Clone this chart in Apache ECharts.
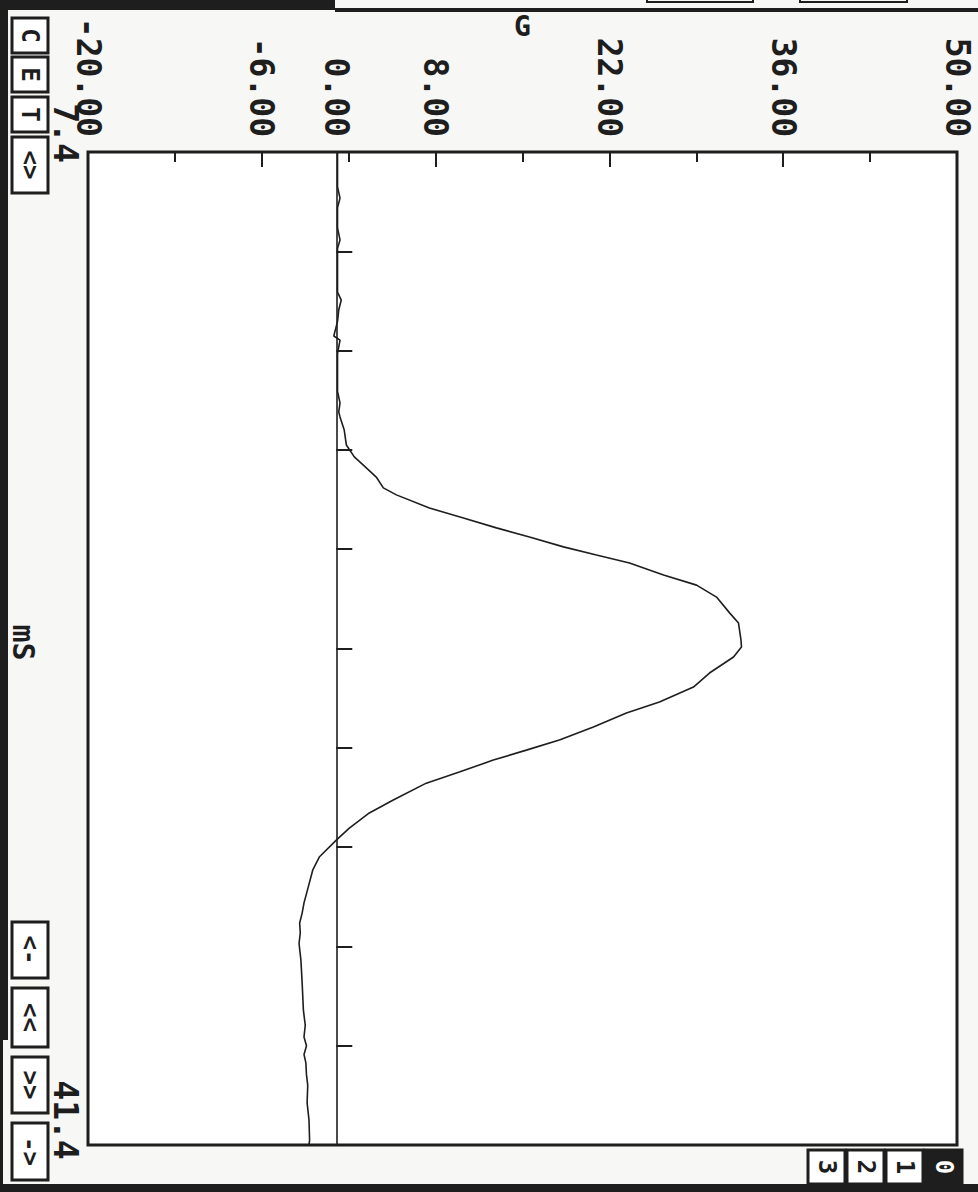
<!DOCTYPE html>
<html>
<head>
<meta charset="utf-8">
<style>
  html, body { margin: 0; padding: 0; background: #f7f7f5; }
  #chart { width: 978px; height: 1192px; }
</style>
<script src="https://cdn.jsdelivr.net/npm/echarts@6/dist/echarts.min.js"></script>
</head>
<body>
<div id="chart"></div>
<script>
// ---- data (time in mS, signal in G) ----
const msValues = [
  7.40, 8.00, 8.60, 8.98, 9.30, 10.00, 10.41, 10.70, 11.50, 12.20, 12.47, 12.80,
  13.20, 13.70, 13.84, 14.30, 15.00, 15.60, 15.99, 16.30, 16.47, 16.92, 17.43,
  17.84, 18.12, 18.53, 18.90, 19.14, 19.59, 19.93, 20.27, 20.58, 20.92, 21.20,
  21.47, 21.88, 22.23, 22.64, 23.18, 23.53, 24.11, 24.35, 24.69, 25.24, 25.72,
  26.23, 26.61, 27.09, 27.53, 27.88, 28.22, 28.63, 29.01, 29.59, 30.03, 30.55,
  30.96, 31.54, 31.99, 32.57, 33.11, 33.46, 33.80, 34.14, 34.50, 35.07, 35.85,
  36.78, 37.30, 37.70, 38.00, 38.30, 38.59, 39.00, 39.35, 39.96, 40.54, 41.23, 41.40
];
const gValues = [
  0.1, 0.1, 0.1, 0.3, 0.1, 0.1, 0.3, 0.1, 0.1, 0.1, 0.4, 0.2,
  0.1, -0.2, 0.3, 0.1, 0.1, 0.1, 0.3, 0.2, 0.3, 0.64, 0.81,
  1.45, 2.18, 3.22, 3.79, 4.84, 7.50, 10.24, 12.90, 15.56, 18.30, 20.96,
  23.62, 26.36, 29.02, 30.63, 31.68, 32.40, 32.60, 32.64, 32.00, 30.06, 28.77,
  26.03, 23.37, 20.71, 17.97, 15.31, 12.65, 9.91, 7.25, 4.59, 2.66, 1.05,
  0.00, -1.37, -1.90, -2.26, -2.60, -2.75, -2.95, -2.90, -3.00, -2.85, -2.75,
  -2.65, -2.50, -2.60, -2.40, -2.60, -2.45, -2.40, -2.30, -2.35, -2.20, -2.15, -2.20
];
// tick labels
const gLabelValues = [-20, -6, 0, 8, 22, 36, 50];
const gMajorTicks = [-6, 8, 22, 36];
const gMinorTicks = [-13, 1, 15, 29, 43];
const msLabelValues = [7.4, 41.4];
const msTicks = [10.8, 14.2, 17.6, 21.0, 24.4, 27.8, 31.2, 34.6, 38.0];
const leftTopButtons = ['C', 'E', 'T', '<>'];
const leftBottomButtons = ['<-', '<<', '>>', '->'];
const channelButtons = ['3', '2', '1', '0'];

const seriesData = msValues.map((m, i) => [gValues[i], m]);

const INK = '#1e1e1e';
const FONT = 'DejaVu Sans Mono';

const chart = echarts.init(document.getElementById('chart'), null, { renderer: 'svg' });

function button(x, y, w, h, txt, dark) {
  return {
    type: 'group', silent: true,
    children: [
      { type: 'rect', shape: { x: x, y: y, width: w, height: h },
        style: { fill: dark ? INK : '#fff', stroke: INK, lineWidth: 3 } },
      { type: 'text', x: x + w / 2, y: y + h / 2, rotation: -Math.PI / 2,
        style: { text: txt, fill: dark ? '#fff' : INK, font: 'bold 24px "' + FONT + '"',
                 align: 'center', verticalAlign: 'middle' } }
    ]
  };
}

const graphics = [
  { type: 'rect', silent: true, shape: { x: 0, y: 0, width: 335, height: 10 }, style: { fill: INK } },
  { type: 'rect', silent: true, shape: { x: 335, y: 8, width: 643, height: 4 }, style: { fill: INK } },
  { type: 'rect', silent: true, shape: { x: 647, y: -4, width: 106, height: 6 }, style: { fill: 'none', stroke: INK, lineWidth: 2 } },
  { type: 'rect', silent: true, shape: { x: 800, y: -4, width: 107, height: 6 }, style: { fill: 'none', stroke: INK, lineWidth: 2 } },
  { type: 'rect', silent: true, shape: { x: 0, y: 0, width: 8, height: 1040 }, style: { fill: INK } },
  { type: 'rect', silent: true, shape: { x: 0, y: 1040, width: 3, height: 152 }, style: { fill: INK } },
  { type: 'rect', silent: true, shape: { x: 0, y: 1184, width: 978, height: 8 }, style: { fill: INK } }
];
const topYs = [[18, 35], [57, 35], [97, 35], [137, 56]];
leftTopButtons.forEach((t, i) => graphics.push(button(12, topYs[i][0], 36, topYs[i][1], t)));
const botYs = [[922, 56], [988, 59], [1057, 56], [1123, 57]];
leftBottomButtons.forEach((t, i) => graphics.push(button(12, botYs[i][0], 36, botYs[i][1], t)));
const chXs = [808, 847, 886, 925];
channelButtons.forEach((t, i) => graphics.push(button(chXs[i], 1150, 37, 34, t, t === '0')));

const option = {
  backgroundColor: '#f7f7f5',
  animation: false,
  grid: {
    left: 88, top: 152, right: 21, bottom: 47,
    containLabel: false, outerBoundsMode: 'none',
    show: true, backgroundColor: '#ffffff', borderColor: INK, borderWidth: 3
  },
  xAxis: [
    {
      type: 'value', position: 'top', min: -20, max: 50,
      name: 'G', nameLocation: 'middle', nameGap: 112, nameRotate: 0, nameMoveOverlap: false,
      nameTextStyle: { fontFamily: FONT, fontWeight: 'bold', fontSize: 28, color: INK },
      axisLine: { show: false },
      splitLine: { show: false },
      axisTick: { show: true, inside: true, length: 15, customValues: gMajorTicks,
                  lineStyle: { color: INK, width: 2 } },
      axisLabel: {
        show: true, customValues: gLabelValues, rotate: 90, margin: 15,
        formatter: v => v.toFixed(2),
        fontFamily: FONT, fontWeight: 'bold', fontSize: 33, color: INK
      }
    },
    {
      type: 'value', position: 'top', min: -20, max: 50,
      axisLine: { show: false },
      splitLine: { show: false },
      axisLabel: { show: false },
      axisTick: { show: true, inside: true, length: 10, customValues: gMinorTicks,
                  lineStyle: { color: INK, width: 2 } }
    }
  ],
  yAxis: {
    type: 'value', inverse: true, min: 7.4, max: 41.4,
    name: 'mS', nameLocation: 'middle', nameGap: 50, nameRotate: -90, nameMoveOverlap: false,
    nameTextStyle: { fontFamily: FONT, fontWeight: 'bold', fontSize: 30, color: INK, padding: [0, 12, 0, 0] },
    axisLine: { show: false },
    splitLine: { show: false },
    axisTick: { show: true, inside: true, length: 16, customValues: msTicks,
                lineStyle: { color: INK, width: 2 } },
    axisLabel: {
      show: true, customValues: msLabelValues, rotate: -90, margin: 6, align: 'center',
      formatter: v => (v < 20 ? '{a|' : '{b|') + v.toFixed(1) + '}',
      rich: {
        a: { fontFamily: FONT, fontWeight: 'bold', fontSize: 33, color: INK, padding: [0, 38, 0, 0] },
        b: { fontFamily: FONT, fontWeight: 'bold', fontSize: 33, color: INK, padding: [0, 50, 0, 0] }
      },
      fontFamily: FONT, fontWeight: 'bold', fontSize: 33, color: INK
    }
  },
  series: [{
    type: 'line',
    xAxisIndex: 0,
    data: seriesData,
    showSymbol: false,
    smooth: false,
    lineStyle: { color: INK, width: 1.6 },
    markLine: {
      silent: true, symbol: 'none', label: { show: false },
      lineStyle: { color: INK, width: 1.6, type: 'solid' },
      data: [{ xAxis: 0 }]
    }
  }],
  graphic: graphics
};
chart.setOption(option);
</script>
</body>
</html>
